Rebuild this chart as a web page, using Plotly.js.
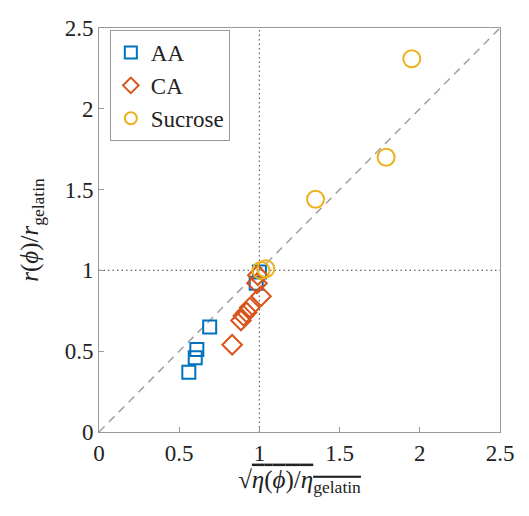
<!DOCTYPE html>
<html>
<head>
<meta charset="utf-8">
<script src="https://cdn.plot.ly/plotly-3.0.1.min.js"></script>
<style>html,body{margin:0;padding:0;background:#fff;}</style>
</head>
<body>
<div id="chart" style="width:529px;height:516px;"></div>
<script>
const aaX = [0.56, 0.60, 0.61, 0.69, 0.98, 1.00];
const aaY = [0.37, 0.46, 0.51, 0.65, 0.92, 0.99];
const caX = [0.83, 0.885, 0.90, 0.92, 0.94, 1.01, 0.985, 0.99];
const caY = [0.54, 0.69, 0.72, 0.74, 0.77, 0.84, 0.92, 0.97];
const suX = [1.01, 1.04, 1.35, 1.79, 1.95];
const suY = [1.00, 1.01, 1.44, 1.70, 2.31];
const refLine = [0, 2.5];
const unitLine = [1, 1];
const span = [0, 2.5];

const font = 'Liberation Serif, Times New Roman, serif';
const traces = [
  {x: refLine, y: refLine, mode: 'lines', line: {color: '#a0a0a0', width: 1.5, dash: '8px,6px'}, showlegend: false, hoverinfo: 'skip'},
  {x: unitLine, y: span, mode: 'lines', line: {color: '#666', width: 1.2, dash: '1.5px,3px'}, showlegend: false, hoverinfo: 'skip'},
  {x: span, y: unitLine, mode: 'lines', line: {color: '#666', width: 1.2, dash: '1.5px,3px'}, showlegend: false, hoverinfo: 'skip'},
  {x: aaX, y: aaY, mode: 'markers', name: 'AA', marker: {symbol: 'square-open', size: 13, color: '#0072BD', line: {width: 2}}},
  {x: caX, y: caY, mode: 'markers', name: 'CA', marker: {symbol: 'diamond-open', size: 15, color: '#D95319', line: {width: 2}}},
  {x: suX, y: suY, mode: 'markers', name: 'Sucrose', marker: {symbol: 'circle-open', size: 17, color: '#EDB120', line: {width: 2}}}
];
const axisCommon = {
  range: [0, 2.5], dtick: 0.5, tick0: 0, ticks: 'inside', ticklen: 5, tickcolor: '#999',
  showline: true, linecolor: '#999', linewidth: 1, mirror: true, showgrid: false, zeroline: false,
  tickfont: {family: font, size: 23, color: '#222'}
};
const layout = {
  width: 529, height: 516,
  margin: {l: 99, r: 29, t: 28, b: 84},
  paper_bgcolor: '#fff', plot_bgcolor: '#fff',
  xaxis: Object.assign({}, axisCommon, {
    title: {text: '√<span style="text-decoration:overline"><i>η</i>(<i>ϕ</i>)/<i>η</i><sub><span style="text-decoration:overline">gelatin</span></sub></span>', font: {family: font, size: 25, color: '#222'}, standoff: 4}
  }),
  yaxis: Object.assign({}, axisCommon, {
    title: {text: '<i>r</i>(<i>ϕ</i>)/<i>r</i><sub>gelatin</sub>', font: {family: font, size: 25, color: '#222'}, standoff: 18}
  }),
  legend: {
    x: 0.027, y: 0.995, xanchor: 'left', yanchor: 'top',
    bordercolor: '#999', borderwidth: 1, bgcolor: '#fff',
    font: {family: font, size: 23, color: '#222'}, tracegroupgap: 0, itemsizing: 'constant', itemwidth: 30
  },
  showlegend: true
};
Plotly.newPlot('chart', traces, layout, {displayModeBar: false, staticPlot: true});
</script>
</body>
</html>
